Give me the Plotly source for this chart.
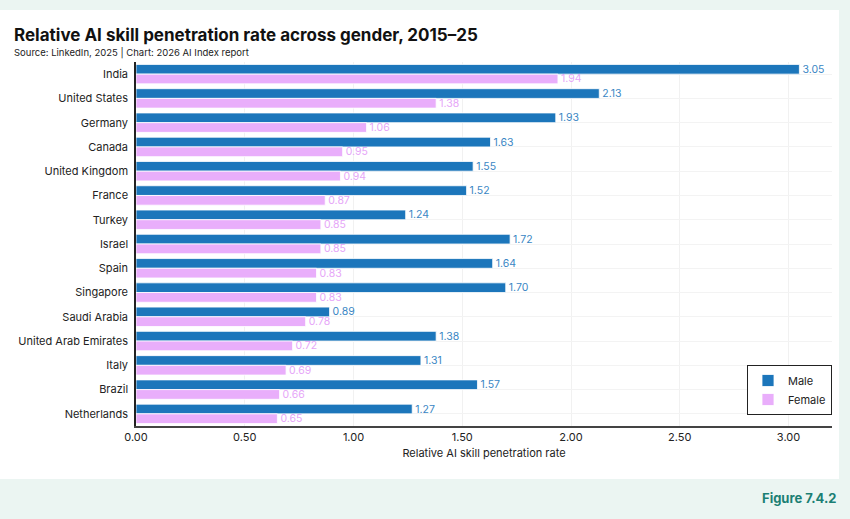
import plotly.graph_objects as go

countries = ["India", "United States", "Germany", "Canada", "United Kingdom", "France", "Turkey",
             "Israel", "Spain", "Singapore", "Saudi Arabia", "United Arab Emirates", "Italy",
             "Brazil", "Netherlands"]
male = [3.05, 2.13, 1.93, 1.63, 1.55, 1.52, 1.24, 1.72, 1.64, 1.70, 0.89, 1.38, 1.31, 1.57, 1.27]
female = [1.94, 1.38, 1.06, 0.95, 0.94, 0.87, 0.85, 0.85, 0.83, 0.83, 0.78, 0.72, 0.69, 0.66, 0.65]
x_ticks = [0, 0.5, 1.0, 1.5, 2.0, 2.5, 3.0]

MALE_C = "#1c76bb"
FEMALE_C = "#e9aefb"
FONT = "Inter"

W, H = 850, 519
L, R, T, B = 136, 18, 62, 93
PW, PH = W - L - R, H - T - B

def px_x(px):
    return (px - L) / PW

def px_y(py):
    return (H - B - py) / PH

fig = go.Figure()
fig.add_trace(go.Bar(
    y=countries, x=male, name="Male", orientation="h",
    marker=dict(color=MALE_C, line=dict(color="white", width=0.8)),
    texttemplate="%{x:.2f}", textposition="outside", constraintext="none",
    textfont=dict(color="#3a86c4", size=10.5, family=FONT),
    cliponaxis=False,
))
fig.add_trace(go.Bar(
    y=countries, x=female, name="Female", orientation="h",
    marker=dict(color=FEMALE_C, line=dict(color="white", width=0.8)),
    texttemplate="%{x:.2f}", textposition="outside", constraintext="none",
    textfont=dict(color="#e6a6f8", size=10.5, family=FONT),
    cliponaxis=False,
))

fig.update_layout(
    width=W, height=H,
    margin=dict(l=L, r=R, t=T, b=B),
    paper_bgcolor="#ebf5f2",
    plot_bgcolor="white",
    barmode="group",
    bargap=0.2,
    bargroupgap=0.0,
    font=dict(family=FONT, color="#222222", size=11),
    showlegend=True,
    legend=dict(
        x=1.0, xanchor="right", y=px_y(365), yanchor="top",
        bgcolor="white", bordercolor="#222222", borderwidth=1,
        font=dict(size=11, family=FONT, color="#222222"),
        traceorder="normal", itemwidth=30,
    ),
    xaxis=dict(
        range=[0, 3.2], tickvals=x_ticks, tickformat=".2f",
        showgrid=True, gridcolor="#f1f1f1", gridwidth=1,
        zeroline=False, showline=True, linecolor="#444444", linewidth=1.5,
        ticks="", tickfont=dict(size=11, family=FONT, color="#222222"),
        title=dict(text="Relative AI skill penetration rate", font=dict(size=11, family=FONT, color="#222222"), standoff=6),
    ),
    yaxis=dict(
        autorange="reversed",
        showgrid=True, gridcolor="#f3f3f3", gridwidth=1,
        showline=True, linecolor="#222222", linewidth=1.5,
        ticks="", ticklabelstandoff=4,
        tickfont=dict(size=11, family=FONT, color="#222222"),
    ),
    shapes=[
        dict(type="rect", xref="paper", yref="paper",
             x0=px_x(0), x1=px_x(839), y0=px_y(479), y1=px_y(10),
             fillcolor="white", line=dict(width=0), layer="below"),
    ],
    annotations=[
        dict(text="<b>Relative AI skill penetration rate across gender, 2015–25</b>",
             xref="paper", yref="paper", x=px_x(12), y=px_y(47), xanchor="left", yanchor="bottom",
             showarrow=False, font=dict(size=17, family=FONT, color="#111111")),
        dict(text="Source: LinkedIn, 2025 | Chart: 2026 AI Index report",
             xref="paper", yref="paper", x=px_x(12), y=px_y(61), xanchor="left", yanchor="bottom",
             showarrow=False, font=dict(size=9.5, family=FONT, color="#222222")),
        dict(text="<b>Figure 7.4.2</b>",
             xref="paper", yref="paper", x=px_x(838), y=px_y(498), xanchor="right", yanchor="middle",
             showarrow=False, font=dict(size=13, family=FONT, color="#1b7f74")),
    ],
)

fig.write_html("out.html")
